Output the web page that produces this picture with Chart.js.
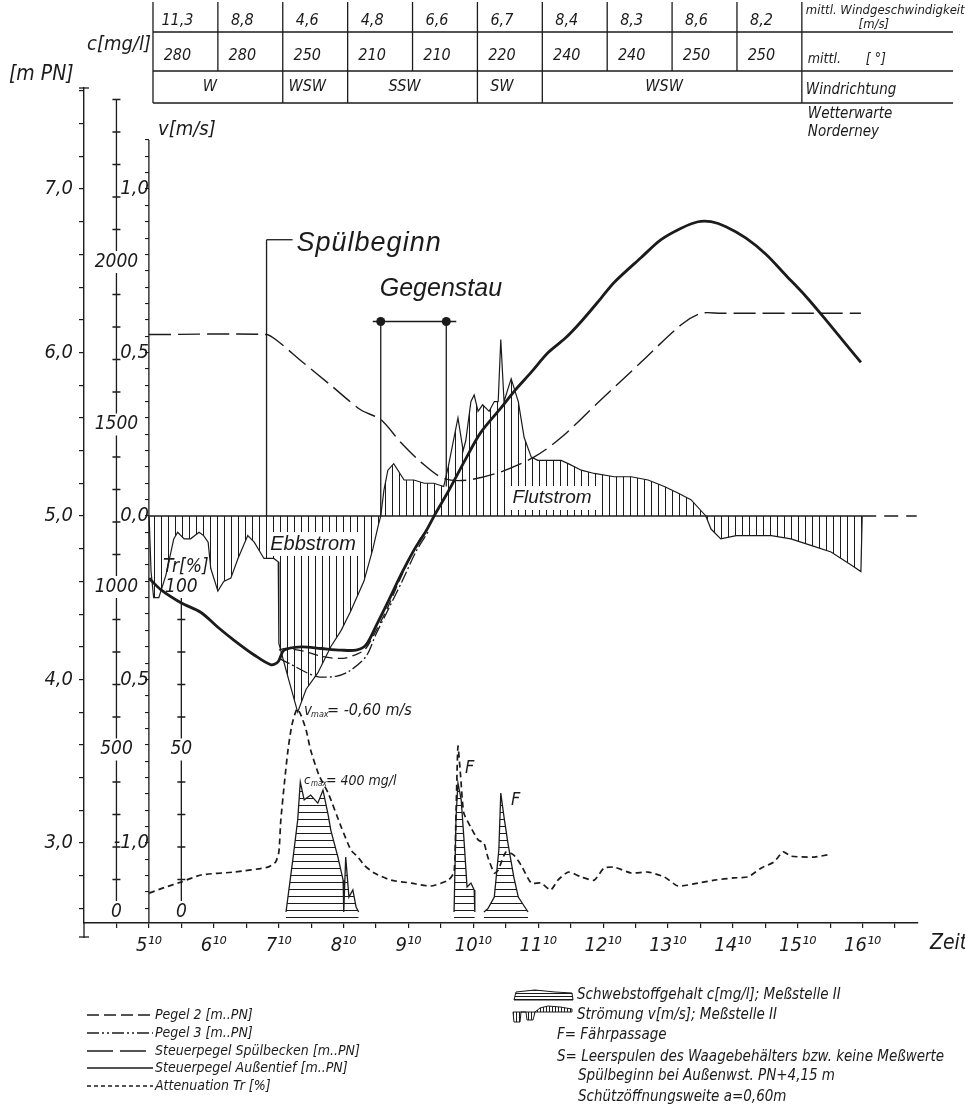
<!DOCTYPE html>
<html>
<head>
<meta charset="utf-8">
<script src="https://cdn.jsdelivr.net/npm/chart.js@4.4.1/dist/chart.umd.min.js"></script>
<style>
  html, body { margin: 0; padding: 0; background: #fff; }
  canvas { display: block; }
</style>
</head>
<body>
<canvas id="spuelChart" width="965" height="1106"></canvas>
<script>
const FONT = "'Liberation Sans Narrow','DejaVu Sans Condensed','Liberation Sans',sans-serif";
const WIDE = "'Liberation Sans','DejaVu Sans',sans-serif";
const INK = '#1b1b1b';

// Wetterwarte Norderney, stuendlich ab 5 Uhr 10
const windStart = 5.23;
const windSpeed = ['11,3', '8,8', '4,6', '4,8', '6,6', '6,7', '8,4', '8,3', '8,6', '8,2'];
const windDegree = ['280', '280', '250', '210', '210', '220', '240', '240', '250', '250'];
const windDirLabels = ['W', 'WSW', 'SSW', 'SW', 'WSW'];
const windDirSpans = [2, 1, 2, 1, 4];

// Zeit in Stunden (dezimal)
const hourLabels = [5, 6, 7, 8, 9, 10, 11, 12, 13, 14, 15, 16];

// Steuerpegel Aussentief [m PN]
const aussenT = [5.17, 5.35, 5.66, 5.97, 6.23, 6.48, 6.79, 7.05, 7.16, 7.25, 7.51, 7.82, 8.13, 8.36, 8.51, 8.67, 8.87, 9.05, 9.25, 9.44, 9.59, 9.78, 10.05, 10.28, 10.59, 10.79, 11.06, 11.32, 11.59, 11.83, 12.13, 12.34, 12.75, 13.06, 13.37, 13.63, 13.83, 14.06, 14.37, 14.68, 14.99, 15.30, 15.60, 15.91, 16.14];
const aussenH = [4.62, 4.55, 4.47, 4.41, 4.32, 4.24, 4.15, 4.09, 4.11, 4.18, 4.20, 4.19, 4.18, 4.18, 4.21, 4.33, 4.49, 4.64, 4.79, 4.91, 5.02, 5.15, 5.35, 5.51, 5.66, 5.76, 5.88, 6.00, 6.09, 6.19, 6.33, 6.43, 6.58, 6.69, 6.76, 6.80, 6.80, 6.77, 6.70, 6.60, 6.47, 6.34, 6.20, 6.05, 5.94];

// Steuerpegel Spuelbecken [m PN]
const beckenT = [5.17, 6.97, 7.12, 7.51, 7.97, 8.43, 8.74, 9.05, 9.36, 9.71, 10.08, 10.59, 11.10, 11.52, 12.13, 12.75, 13.37, 13.68, 13.98, 16.14];
const beckenH = [6.11, 6.11, 6.08, 5.95, 5.80, 5.65, 5.59, 5.45, 5.33, 5.23, 5.22, 5.27, 5.36, 5.48, 5.71, 5.94, 6.17, 6.24, 6.24, 6.24];

// Pegel 2 und Pegel 3 [m PN]
const pegel2T = [7.17, 7.28, 7.59, 7.85, 8.16, 8.40, 8.51, 8.67, 8.87, 9.02, 9.21, 9.36];
const pegel2H = [4.18, 4.19, 4.17, 4.14, 4.13, 4.16, 4.19, 4.30, 4.46, 4.60, 4.76, 4.87];
const pegel3T = [7.17, 7.32, 7.74, 8.05, 8.25, 8.51, 8.67, 8.87, 9.08, 9.28, 9.48];
const pegel3H = [4.13, 4.10, 4.02, 4.02, 4.05, 4.14, 4.28, 4.44, 4.61, 4.78, 4.91];

// Stroemung v [m/s], Messstelle II
const stromT = [5.17, 5.20, 5.24, 5.32, 5.43, 5.55, 5.61, 5.71, 5.81, 5.94, 6.01, 6.08, 6.12, 6.23, 6.32, 6.43, 6.54, 6.69, 6.79, 6.94, 7.09, 7.16, 7.17, 7.32, 7.46, 7.59, 7.77, 7.97, 8.13, 8.28, 8.48, 8.62, 8.70, 8.74,
  8.79, 8.85, 8.94, 9.10, 9.25, 9.41, 9.56, 9.71, 9.78, 9.93, 10.01, 10.05, 10.13, 10.18, 10.24, 10.31, 10.41, 10.49, 10.55, 10.59, 10.64, 10.75, 10.86, 10.95, 11.06, 11.16, 11.41, 11.52, 11.63, 11.83, 12.03, 12.34, 12.60, 12.86, 13.11, 13.32, 13.52, 13.75,
  13.83, 13.98, 14.22, 14.45, 14.76, 15.06, 15.37, 15.68, 15.99, 16.14, 16.16];
const stromV = [0, -0.17, -0.25, -0.25, -0.18, -0.07, -0.05, -0.07, -0.07, -0.05, -0.06, -0.08, -0.16, -0.23, -0.20, -0.19, -0.13, -0.06, -0.08, -0.13, -0.13, -0.14, -0.39, -0.50, -0.60, -0.53, -0.48, -0.40, -0.35, -0.29, -0.20, -0.10, -0.03, 0,
  0.08, 0.14, 0.16, 0.11, 0.11, 0.10, 0.10, 0.09, 0.15, 0.30, 0.20, 0.23, 0.35, 0.37, 0.32, 0.34, 0.32, 0.35, 0.35, 0.54, 0.35, 0.42, 0.35, 0.24, 0.18, 0.17, 0.17, 0.17, 0.16, 0.14, 0.13, 0.12, 0.12, 0.11, 0.09, 0.07, 0.05, 0,
  -0.04, -0.07, -0.06, -0.06, -0.06, -0.07, -0.09, -0.11, -0.15, -0.17, 0];

// Schwebstoffgehalt c [mg/l], Messstelle II (null = keine Messwerte)
const schwebT = [7.28, 7.39, 7.46, 7.50, 7.56, 7.66, 7.77, 7.85, 7.93, 7.97, 8.08, 8.16, 8.17, 8.20, 8.25, 8.31, 8.36, 8.40, 9.00,
  9.87, 9.90, 9.93, 9.98, 10.02, 10.07, 10.13, 10.18, 10.19, 10.26,
  10.33, 10.39, 10.49, 10.56, 10.59, 10.64, 10.70, 10.79, 10.86, 11.01];
const schwebC = [0, 169, 283, 400, 345, 360, 335, 375, 298, 252, 169, 98, 0, 169, 46, 68, 15, 0, null,
  0, 292, 397, 345, 231, 77, 89, 68, 0, null,
  0, 10, 46, 191, 366, 292, 212, 108, 46, 0];

// Attenuation Tr [%]
const attT = [5.17, 5.40, 5.66, 5.97, 6.48, 7.00, 7.12, 7.17, 7.20, 7.26, 7.31, 7.37, 7.45, 7.51, 7.59, 7.66, 7.79, 7.93, 8.13, 8.28, 8.39, 8.48, 8.64, 8.90, 9.21, 9.51, 9.78, 9.87, 9.90, 9.93, 9.97, 10.02, 10.13, 10.24, 10.33, 10.39, 10.49, 10.55, 10.67, 10.79, 10.90, 11.06, 11.21, 11.36, 11.47, 11.63, 11.83, 12.03, 12.18, 12.34, 12.60, 12.86, 13.11, 13.32, 13.63, 13.88, 14.18, 14.40, 14.60, 14.80, 14.94, 15.06, 15.42, 15.68];
const attTr = [5.8, 7.5, 9.2, 11.4, 12.3, 13.8, 15.4, 18.5, 28.3, 40.6, 49.8, 57.5, 62.5, 60.6, 56.0, 49.8, 42.0, 36.6, 26.2, 19.1, 16.9, 14.5, 12.0, 9.8, 8.9, 8.0, 9.8, 12.3, 30.0, 51.0, 42.0, 30.5, 26.0, 22.2, 21.2, 16.9, 12.0, 12.9, 18.5, 17.5, 14.5, 8.9, 8.9, 6.8, 9.8, 12.3, 10.8, 9.8, 13.5, 13.8, 12.0, 12.3, 10.8, 8.0, 8.9, 9.8, 10.5, 10.8, 13.5, 15.4, 18.5, 17.2, 16.9, 17.8];

// Markierungen
const spuelbeginnTime = 6.98;
const spuelbeginnLevel = 6.69;
const gegenstauTimes = [8.74, 9.75];
const gegenstauLevel = 6.19;

const pts = (ts, vs) => ts.map((t, i) => ({ x: t, y: vs[i] }));

function hatch(vertical, gap) {
  const c = document.createElement('canvas');
  c.width = gap; c.height = gap;
  const g = c.getContext('2d');
  g.strokeStyle = INK; g.lineWidth = 1;
  g.beginPath();
  if (vertical) { g.moveTo(0.5, 0); g.lineTo(0.5, gap); }
  else { g.moveTo(0, 0.5); g.lineTo(gap, 0.5); }
  g.stroke();
  return g.createPattern(c, 'repeat');
}

function tickList(lo, hi, step) {
  const out = [];
  for (let v = lo; v <= hi + 1e-9; v += step) out.push({ value: Math.round(v * 1000) / 1000 });
  return out;
}

function txt(ctx, s, x, y, size, align, family) {
  ctx.font = 'italic ' + size + 'px ' + (family || FONT);
  ctx.textAlign = align || 'left';
  ctx.textBaseline = 'middle';
  ctx.fillStyle = INK;
  ctx.fillText(s, x, y);
}

function seg(ctx, x1, y1, x2, y2) {
  ctx.beginPath(); ctx.moveTo(x1, y1); ctx.lineTo(x2, y2); ctx.stroke();
}

function brokenAxis(ctx, scale, xp, lo, hi, step, labelVals, size) {
  const gap = 11;
  const top = scale.getPixelForValue(hi), bottom = scale.getPixelForValue(lo);
  const cuts = labelVals.map(v => scale.getPixelForValue(v)).sort((a, b) => a - b);
  ctx.beginPath();
  let start = top;
  cuts.forEach(c => {
    if (c - gap > start) { ctx.moveTo(xp, start); ctx.lineTo(xp, c - gap); }
    start = Math.max(start, c + gap);
  });
  if (start < bottom) { ctx.moveTo(xp, start); ctx.lineTo(xp, bottom); }
  for (let v = lo; v <= hi + 1e-9; v += step) {
    const y = scale.getPixelForValue(v);
    if (cuts.some(c => Math.abs(c - y) < gap)) continue;
    ctx.moveTo(xp - 4, y); ctx.lineTo(xp + 4, y);
  }
  ctx.stroke();
  labelVals.forEach(v => txt(ctx, String(v), xp, scale.getPixelForValue(v), size, 'center'));
}

const decorations = {
  id: 'decorations',
  beforeDraw(chart) {
    const ctx = chart.ctx;
    ctx.save(); ctx.fillStyle = '#fff'; ctx.fillRect(0, 0, chart.width, chart.height); ctx.restore();
  },
  afterDraw(chart) {
    const ctx = chart.ctx;
    const xs = chart.scales.x, ys = chart.scales.y, vs = chart.scales.v, cs = chart.scales.c, ts = chart.scales.tr;
    const area = chart.chartArea;
    ctx.save();
    ctx.strokeStyle = INK; ctx.fillStyle = INK; ctx.lineWidth = 1.3;

    // Tabelle Wind
    const colX = i => xs.getPixelForValue(windStart + i);
    const rowY = [2, 32, 71, 103];
    const tabRight = 953;
    rowY.slice(1).forEach(y => seg(ctx, colX(0), y, tabRight, y));
    for (let i = 0; i <= 10; i++) seg(ctx, colX(i), rowY[0], colX(i), rowY[2]);
    const bounds = [0];
    windDirSpans.forEach(s => bounds.push(bounds[bounds.length - 1] + s));
    bounds.forEach(i => seg(ctx, colX(i), rowY[2], colX(i), rowY[3]));
    windSpeed.forEach((s, i) => txt(ctx, s, (colX(i) + colX(i + 1)) / 2 - 8, 21, 16, 'center'));
    windDegree.forEach((s, i) => txt(ctx, s, (colX(i) + colX(i + 1)) / 2 - 8, 56, 16, 'center'));
    windDirLabels.forEach((s, k) => txt(ctx, s, (colX(bounds[k]) + colX(bounds[k + 1])) / 2 - 8, 87, 16, 'center'));
    const lx = colX(10) + 4;
    txt(ctx, 'mittl. Windgeschwindigkeit', lx, 11, 13);
    txt(ctx, '[m/s]', lx + 68, 25, 13, 'center');
    txt(ctx, 'mittl.', lx + 2, 59, 14);
    txt(ctx, '[ °]', lx + 60, 59, 14);
    txt(ctx, 'Windrichtung', lx, 90, 15);
    txt(ctx, 'Wetterwarte', lx + 2, 114, 15);
    txt(ctx, 'Norderney', lx + 2, 132, 15);

    // Achstitel
    txt(ctx, '[m PN]', 9, 75, 21);
    txt(ctx, 'c[mg/l]', 87, 45, 20);
    txt(ctx, 'v[m/s]', 158, 130, 20);

    // m PN Achse nach unten verlaengern
    seg(ctx, area.left, area.bottom, area.left, area.bottom + 15);
    seg(ctx, area.left - 5, area.bottom + 14, area.left + 5, area.bottom + 14);
    seg(ctx, area.left - 5, area.top, area.left + 5, area.top);

    // v Achse
    const vx = xs.getPixelForValue(5.1667);
    seg(ctx, vx, vs.getPixelForValue(1.15), vx, area.bottom);

    // c und Tr Achsen (Beschriftung auf der Achse)
    brokenAxis(ctx, cs, xs.getPixelForValue(4.6667), 0, 2500, 100, [0, 500, 1000, 1500, 2000], 19);
    brokenAxis(ctx, ts, xs.getPixelForValue(5.6667), 0, 100, 10, [0, 50, 100], 19);
    txt(ctx, 'Tr[%]', 163, 567, 19);

    // Spuelbeginn
    const sx = xs.getPixelForValue(spuelbeginnTime), sy = ys.getPixelForValue(spuelbeginnLevel);
    seg(ctx, sx, vs.getPixelForValue(0), sx, sy);
    seg(ctx, sx, sy, sx + 26, sy);
    ctx.letterSpacing = '1px';
    txt(ctx, 'Spülbeginn', sx + 30, sy + 4, 27, 'left', WIDE);
    ctx.letterSpacing = '0px';

    // Gegenstau
    const g1 = xs.getPixelForValue(gegenstauTimes[0]), g2 = xs.getPixelForValue(gegenstauTimes[1]);
    const gy = ys.getPixelForValue(gegenstauLevel);
    seg(ctx, g1 - 8, gy, g2 + 10, gy);
    seg(ctx, g1, gy, g1, vs.getPixelForValue(0));
    seg(ctx, g2, gy, g2, vs.getPixelForValue(0.09));
    [g1, g2].forEach(x => { ctx.beginPath(); ctx.arc(x, gy, 4.5, 0, Math.PI * 2); ctx.fill(); });
    txt(ctx, 'Gegenstau', g1 - 1, gy - 32, 25, 'left', WIDE);

    // Beschriftungen im Diagramm
    const boxText = (s, cx, cy, size, w, h) => {
      ctx.fillStyle = '#fff'; ctx.fillRect(cx - w / 2, cy - h / 2, w, h);
      txt(ctx, s, cx, cy, size, 'center', WIDE);
    };
    boxText('Ebbstrom', 313, 544, 20, 92, 24);
    boxText('Flutstrom', 552, 498, 19, 92, 24);

    txt(ctx, 'v', 304, 711, 15);
    txt(ctx, 'max', 311, 715, 9);
    txt(ctx, '= -0,60 m/s', 327, 711, 16);
    txt(ctx, 'c', 304, 781, 13);
    txt(ctx, 'max', 311, 784, 8);
    txt(ctx, '= 400 mg/l', 326, 781, 14);
    txt(ctx, 'F', 465, 768, 18);
    txt(ctx, 'F', 511, 800, 18);

    // Zeit
    txt(ctx, 'Zeit', 930, 944, 21);

    // Legende links
    const legY = [1015, 1033, 1051, 1068, 1086];
    const legDash = [[12, 5], [12, 3, 2, 3, 2, 3], [26, 7], [], [4, 3]];
    const legText = ['Pegel 2 [m..PN]', 'Pegel 3 [m..PN]', 'Steuerpegel Spülbecken [m..PN]', 'Steuerpegel Außentief [m..PN]', 'Attenuation Tr [%]'];
    legY.forEach((y, i) => {
      ctx.setLineDash(legDash[i]);
      seg(ctx, 87, y, 153, y);
      ctx.setLineDash([]);
      txt(ctx, legText[i], 155, y, 14);
    });

    // Legende rechts
    ctx.save();
    ctx.beginPath();
    ctx.moveTo(514, 1000); ctx.lineTo(516, 992); ctx.lineTo(535, 990); ctx.lineTo(555, 992); ctx.lineTo(572, 993); ctx.lineTo(573, 1000); ctx.closePath();
    ctx.fillStyle = hatch(false, 3); ctx.fill(); ctx.lineWidth = 1; ctx.stroke();
    ctx.beginPath();
    ctx.moveTo(513, 1012); ctx.lineTo(514, 1022); ctx.lineTo(520, 1022); ctx.lineTo(521, 1012);
    ctx.lineTo(526, 1012); ctx.lineTo(527, 1020); ctx.lineTo(533, 1020); ctx.lineTo(535, 1012);
    ctx.lineTo(540, 1008); ctx.lineTo(548, 1006); ctx.lineTo(560, 1007); ctx.lineTo(572, 1009); ctx.lineTo(572, 1012); ctx.closePath();
    ctx.fillStyle = hatch(true, 3); ctx.fill(); ctx.stroke();
    ctx.restore();
    txt(ctx, 'Schwebstoffgehalt c[mg/l]; Meßstelle II', 577, 995, 15);
    txt(ctx, 'Strömung v[m/s]; Meßstelle II', 577, 1015, 15);
    txt(ctx, 'F= Fährpassage', 557, 1035, 15);
    txt(ctx, 'S= Leerspulen des Waagebehälters bzw. keine Meßwerte', 557, 1057, 15);
    txt(ctx, 'Spülbeginn bei Außenwst. PN+4,15 m', 578, 1076, 15);
    txt(ctx, 'Schützöffnungsweite a=0,60m', 578, 1097, 15);

    ctx.restore();
  }
};

const tickFont = { family: FONT, size: 20, style: 'italic' };
const vLabels = { '100': '1,0', '50': '0,5', '0': '0,0', '-50': '0,5', '-100': '-1,0' };

new Chart(document.getElementById('spuelChart'), {
  type: 'line',
  data: {
    datasets: [
      { label: 'Steuerpegel Außentief', yAxisID: 'y', data: pts(aussenT, aussenH), borderColor: INK, borderWidth: 2.8, tension: 0.3, pointRadius: 0, fill: false },
      { label: 'Steuerpegel Spülbecken', yAxisID: 'y', data: pts(beckenT, beckenH), borderColor: INK, borderWidth: 1.4, borderDash: [22, 7], tension: 0.3, pointRadius: 0, fill: false },
      { label: 'Pegel 2', yAxisID: 'y', data: pts(pegel2T, pegel2H), borderColor: INK, borderWidth: 1.3, borderDash: [10, 5], tension: 0.3, pointRadius: 0, fill: false },
      { label: 'Pegel 3', yAxisID: 'y', data: pts(pegel3T, pegel3H), borderColor: INK, borderWidth: 1.3, borderDash: [12, 3, 2, 3], tension: 0.3, pointRadius: 0, fill: false },
      { label: 'Attenuation Tr', yAxisID: 'tr', data: pts(attT, attTr), borderColor: INK, borderWidth: 1.7, borderDash: [6, 4], tension: 0.2, pointRadius: 0, fill: false },
      { label: 'Schwebstoffgehalt', yAxisID: 'c', data: pts(schwebT, schwebC), borderColor: INK, borderWidth: 1.3, backgroundColor: hatch(false, 7), tension: 0, pointRadius: 0, spanGaps: false, fill: 'start' },
      { label: 'Strömung', yAxisID: 'v', data: pts(stromT, stromV), borderColor: INK, borderWidth: 1.2, backgroundColor: hatch(true, 7), tension: 0, pointRadius: 0, fill: 'origin' },
      { label: 'v = 0', yAxisID: 'v', data: pts([stromT[0], stromT[stromT.length - 1]], [0, 0]), borderColor: INK, borderWidth: 1.4, pointRadius: 0, fill: false },
      { label: 'v = 0 (weiter)', yAxisID: 'v', data: pts([stromT[stromT.length - 1], 17.0], [0, 0]), borderColor: INK, borderWidth: 1.4, borderDash: [14, 8], pointRadius: 0, fill: false }
    ]
  },
  options: {
    responsive: false,
    animation: false,
    devicePixelRatio: 1,
    layout: { padding: { left: 0, top: 88, right: 47, bottom: 143 } },
    plugins: { legend: { display: false }, tooltip: { enabled: false } },
    scales: {
      x: {
        type: 'linear', position: 'bottom', min: 4.1667, max: 17.02,
        afterBuildTicks: s => { s.ticks = tickList(4.6667, 16.67, 0.5); },
        afterFit: s => { s.height = 40; },
        grid: { drawOnChartArea: false, tickLength: 5, color: INK, lineWidth: 1.2 },
        border: { color: INK, width: 1.4 },
        ticks: {
          autoSkip: false, maxRotation: 0, padding: 6, color: INK, font: tickFont,
          callback: v => {
            const h = Math.round(v - 1 / 6);
            return (Math.abs(v - 1 / 6 - h) < 0.01 && hourLabels.includes(h)) ? h + '¹⁰' : '';
          }
        }
      },
      y: {
        axis: 'y', type: 'linear', position: 'left', min: 2.511, max: 7.618,
        afterBuildTicks: s => { s.ticks = tickList(2.6, 7.6, 0.2); },
        afterFit: s => { s.width = 84; },
        grid: { drawOnChartArea: false, tickLength: 5, color: INK, lineWidth: 1.2 },
        border: { color: INK, width: 1.4 },
        ticks: {
          autoSkip: false, padding: 6, color: INK, font: tickFont,
          callback: v => Math.abs(v - Math.round(v)) < 0.01 ? Math.round(v).toFixed(1).replace('.', ',') : ''
        }
      },
      v: {
        axis: 'y', type: 'linear', position: { x: 5.1667 }, min: -1.245, max: 1.309,
        afterBuildTicks: s => { s.ticks = tickList(-1.2, 1.15, 0.05); },
        grid: { drawOnChartArea: false, tickLength: 4, color: INK, lineWidth: 1.1 },
        border: { display: false },
        ticks: {
          autoSkip: false, padding: 1, color: INK, font: tickFont,
          callback: v => vLabels[String(Math.round(v * 100))] || ''
        }
      },
      c: { axis: 'y', type: 'linear', display: false, min: -33.8, max: 2535.4 },
      tr: { axis: 'y', type: 'linear', display: false, min: -3.38, max: 253.54 }
    }
  },
  plugins: [decorations]
});
</script>
</body>
</html>
